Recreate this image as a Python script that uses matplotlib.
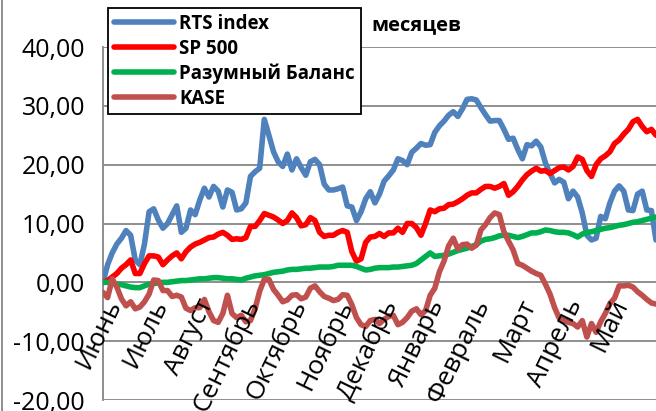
import matplotlib
matplotlib.use("Agg")
import matplotlib.pyplot as plt
from matplotlib.lines import Line2D
from matplotlib.ticker import FuncFormatter, MultipleLocator

plt.rcParams["font.family"] = ["Open Sans", "DejaVu Sans"]

# Palette (Excel 2007 defaults)
BLUE = "#4F81BD"
RED = "#FF0000"
GREEN = "#00B050"
BROWN = "#C0504D"
GRID = "#868686"

months = ["Июнь", "Июль", "Август", "Сентябрь", "Октябрь", "Ноябрь",
          "Декабрь", "Январь", "Февраль", "Март", "Апрель", "Май"]
month_start = [0, 10, 20, 30, 40, 50, 60, 70, 80, 90, 100, 110]

rts = [0, 3, 5, 6.5, 7.5, 8.8, 8, 3.8, 3, 6.5,
       12, 12.5, 10.6, 9.2, 10, 11.5, 13, 8.5, 9.2, 12.3,
       11.5, 14, 16, 14.5, 16.3, 15.5, 12.8, 15.7, 15.3, 12.3,
       12.5, 13.5, 18, 18.8, 19.4, 27.7, 25, 22.2, 20.5, 19.7,
       21.8, 19.1, 21, 19.5, 18.2, 20.5, 20.9, 20, 16.7, 15.7,
       15.7, 15.9, 16.2, 13, 12.8, 10.5, 12, 14.2, 15.4, 13.5,
       15, 17.2, 18.1, 19.1, 21, 20.7, 20, 22.1, 22.8, 23.6,
       23.3, 23.4, 25.5, 26.6, 27.4, 28.4, 29, 28.2, 29.5, 31.1,
       31.2, 31, 29.7, 28.5, 27.4, 27.5, 27.5, 26, 24.3, 24.5,
       22.6, 21, 23.4, 23.2, 24, 23, 20.3, 18.5, 16.9, 17.5,
       17, 14.2, 15.5, 14.5, 11.8, 8, 7.2, 7.5, 11.2, 10.8,
       13.5, 15.5, 16.4, 15.5, 12.3, 12.2, 15, 15.5, 12.3, 12.2,
       7.2]

sp500 = [0, 0.3, 0.9, 1.5, 2.4, 3, 3.8, 1.5, 1.5, 3.2,
         4.5, 4.5, 4.3, 3, 3.8, 4.5, 5, 4, 5.2, 6,
         6.5, 6.8, 7.2, 7.6, 7.7, 8.2, 8.5, 8, 7.3, 7.4,
         7.3, 7.6, 9.5, 9.5, 10.5, 11.7, 11.4, 11.1, 10.6, 10,
         10.5, 11.8, 11, 9.6, 9.8, 11, 10.5, 8.5, 7.8, 8,
         8, 8.5, 8.8, 8.5, 5.2, 3.6, 4, 6.8, 7.7, 7.8,
         8.3, 7.8, 8.4, 8.4, 9.2, 8.5, 10, 10, 9.3, 8,
         10, 12.3, 12, 12.5, 12.6, 13.2, 13.3, 13.7, 14.2, 14.8,
         15.2, 15.2, 15.8, 16.3, 16.3, 16, 16.3, 16.8, 14.8, 15.4,
         16.3, 17.4, 18.3, 18.9, 19.4, 18.9, 19, 18.5, 19, 19.5,
         19.6, 19.1, 19.7, 21.3, 20.9, 19, 18, 20, 21, 21.5,
         22.2, 23.6, 24.2, 25.2, 26, 27.3, 27.7, 26.5, 25.6, 26,
         25]

balance = [0, 0, -0.2, -0.3, -0.4, -0.6, -0.8, -0.9, -0.9, -0.6,
           -0.3, -0.2, -0.1, 0, 0, 0.1, 0.2, 0.3, 0.3, 0.4,
           0.5, 0.6, 0.6, 0.7, 0.8, 0.8, 0.7, 0.6, 0.6, 0.5,
           0.4, 0.7, 0.9, 1.1, 1.2, 1.3, 1.5, 1.7, 1.8, 1.9,
           2.1, 2.2, 2.2, 2.3, 2.4, 2.4, 2.5, 2.6, 2.6, 2.6,
           2.7, 2.9, 2.9, 2.9, 2.9, 2.7, 2.4, 2.1, 2.2, 2.4,
           2.5, 2.5, 2.5, 2.6, 2.6, 2.7, 2.8, 2.9, 3.2, 3.8,
           4.4, 5.0, 4.4, 4.5, 4.6, 4.8, 5.1, 5.4, 5.6, 5.8,
           6.1, 6.4, 7, 7.3, 7.4, 7.6, 7.9, 8, 8, 7.8,
           7.6, 7.8, 8.1, 8.4, 8.4, 8.6, 8.9, 8.8, 8.6, 8.5,
           8.5, 8.4, 8.1, 7.7, 8.2, 8.5, 8.6, 8.8, 9.0, 9.2,
           9.3, 9.5, 9.7, 9.8, 10.0, 10.2, 10.3, 10.5, 10.7, 10.9,
           11.1]

kase = [-1.7, -2.6, 0.6, -0.8, -2.8, -4.0, -3.3, -4.5, -4.2, -3.3,
        -2, 0.4, 0.3, -1.4, -1.4, -2.4, -2.2, -2.5, -4.4, -4.8,
        -4.3, -4.3, -2.9, -5.0, -6.5, -6.8, -5.3, -2.2, -5.3, -6,
        -5.6, -6.7, -6.5, -4.5, -1.5, 0.5, 0.5, -1.2, -2.2, -3.3,
        -3, -2.2, -2.1, -2.8, -2.5, -1, -0.6, -1.6, -2.4, -2.7,
        -3.1, -2.9, -2.1, -2.2, -3.8, -6, -7.2, -7.5, -6.5, -6.3,
        -7, -6.3, -5.8, -5.6, -7.2, -6.8, -6, -4.9, -4.5, -5.5,
        -4.8, -2.2, -1, 1.8, 3.6, 6.2, 7.5, 5.7, 6.4, 6.5,
        5.8, 6.3, 8.9, 9.8, 11, 11.8, 11.5, 8.6, 7, 5.5,
        3.2, 2.9, 2.4, 1.9, 1.5, 1.2, -0.3, -2, -4.3, -6.1,
        -6.5, -6.8, -7, -7.6, -6.5, -9.3, -7, -8.5, -6.7, -5.3,
        -3.6, -2.7, -0.6, -0.6, -0.5, -0.8, -1.6, -2.2, -2.9, -3.5,
        -3.7]

series = [
    ("RTS index", rts, BLUE),
    ("SP 500", sp500, RED),
    ("Разумный Баланс", balance, GREEN),
    ("KASE", kase, BROWN),
]

W, H = 656, 411
fig = plt.figure(figsize=(W / 100, H / 100), dpi=100)
ax = fig.add_axes([103 / W, 1 - 400 / H, 1 - 103 / W, (400 - 47) / H])

days = list(range(len(rts)))
for name, vals, col in series:
    ax.plot(days, vals, color=col, lw=4, label=name, solid_joinstyle="round",
            solid_capstyle="round", zorder=3)

ax.set_xlim(0, len(rts) - 1)
ax.set_ylim(-20, 40)
ax.yaxis.set_major_locator(MultipleLocator(10))
ax.yaxis.set_major_formatter(FuncFormatter(lambda v, p: f"{v:.2f}".replace(".", ",")))
ax.tick_params(axis="y", length=0, pad=13, labelsize=18)
ax.set_xticks([])
ax.grid(True, axis="y", color=GRID, lw=1.3)
ax.set_axisbelow(True)
for s in ["top", "right", "bottom"]:
    ax.spines[s].set_visible(False)
ax.spines["left"].set_color(GRID)
ax.spines["left"].set_linewidth(1.3)

# month labels sit just under the zero line
for m, i in zip(months, month_start):
    ax.text(i + 0.2, -2.2, m, rotation=64, rotation_mode="anchor",
            ha="right", va="top", fontsize=19, color="black", zorder=5)

fig.text(416 / W, 1 - 25 / H, "месяцев", ha="center", va="center",
         fontsize=14.5, fontweight="bold")

leg = ax.legend(loc="upper left", bbox_to_anchor=(108 / W, 1 - 8 / H),
                bbox_transform=fig.transFigure, frameon=True, fancybox=False,
                edgecolor="black", facecolor="white", framealpha=1,
                prop={"weight": "bold", "size": 13.5}, handlelength=3.2,
                handletextpad=0.3, labelspacing=0.26, borderpad=0.3,
                borderaxespad=0)
leg.get_frame().set_linewidth(1.3)
leg.set_zorder(10)

fig.add_artist(Line2D([1.5 / W, 1.5 / W], [0, 1], color=GRID, lw=1.3))

fig.savefig("out.png", dpi=100)
